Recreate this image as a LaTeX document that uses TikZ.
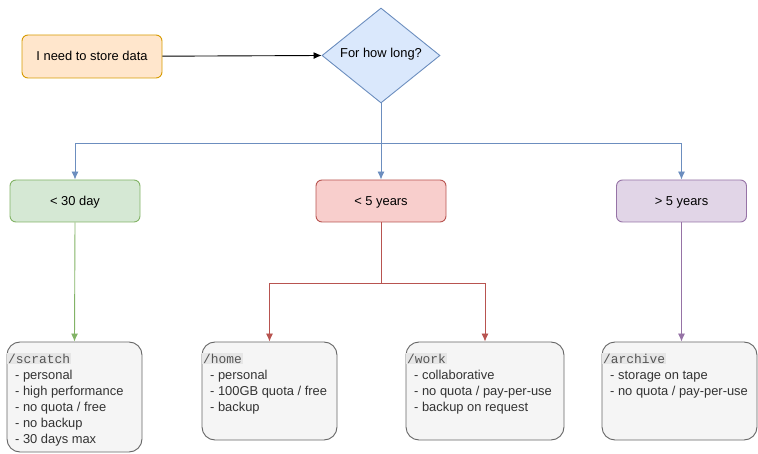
\documentclass[tikz,border=0pt]{standalone}
\usepackage{fontspec}
\setmainfont{Liberation Sans}
\setmonofont{Liberation Mono}
\usetikzlibrary{shapes.geometric,arrows.meta}
\definecolor{oF}{HTML}{FFE6CC}\definecolor{oS}{HTML}{D79B00}
\definecolor{bF}{HTML}{DAE8FC}\definecolor{bS}{HTML}{6C8EBF}
\definecolor{gF}{HTML}{D5E8D4}\definecolor{gS}{HTML}{82B366}
\definecolor{rF}{HTML}{F8CECC}\definecolor{rS}{HTML}{B85450}
\definecolor{pF}{HTML}{E1D5E7}\definecolor{pS}{HTML}{9673A6}
\definecolor{kF}{HTML}{F5F5F5}\definecolor{kS}{HTML}{666666}
\definecolor{kT}{HTML}{333333}\definecolor{hl}{HTML}{E6E6E6}
\definecolor{mT}{HTML}{555555}
\newcommand{\pathname}[1]{{\setlength{\fboxsep}{1pt}\colorbox{hl}{\textcolor{mT}{\ttfamily #1}}}}
\newcommand{\itm}{\hspace*{8pt}- }
\tikzset{
  x=1pt,y=1pt,
  box/.style={draw, rounded corners=6pt, line width=0.9pt, minimum width=130pt, minimum height=42pt, inner sep=0pt, text height=9pt, text depth=0pt, font=\fontsize{12.9}{15}\selectfont},
  bigbox/.style={draw=kS, fill=kF, rounded corners=13pt, line width=0.9pt, inner sep=0pt},
  info/.style={anchor=north west, align=left, inner sep=0pt, text=kT, font=\fontsize{12.9}{16}\selectfont},
  conn/.style={line width=0.9pt, -{Latex[length=8pt,width=7pt]}},
}
\begin{document}
\begin{tikzpicture}
\useasboundingbox (0,0) rectangle (758,-454);
\node[box, fill=oF, draw=oS, minimum width=140pt, minimum height=43pt] (start) at (92,-56.5) {I need to store data};
\node[diamond, draw=bS, fill=bF, line width=0.9pt, minimum width=118pt, minimum height=95pt, inner sep=0pt, aspect=1.24] (q) at (381,-55.5) {};
\node[font=\fontsize{12.9}{15}\selectfont, inner sep=0pt, text height=9pt, text depth=0pt] (qt) at (381,-53) {For how long?};
\node[box, fill=gF, draw=gS] (g) at (75,-201) {< 30 day};
\node[box, fill=rF, draw=rS] (r) at (381,-201) {< 5 years};
\node[box, fill=pF, draw=pS] (p) at (681.5,-201) {> 5 years};

\node[bigbox, minimum width=135pt, minimum height=110pt] (scratch) at (74.5,-397) {};
\node[bigbox, minimum width=135pt, minimum height=98pt] (home) at (269.5,-391) {};
\node[bigbox, minimum width=158pt, minimum height=98pt] (work) at (485,-391) {};
\node[bigbox, minimum width=155pt, minimum height=98pt] (archive) at (679.5,-391) {};

\node[info] (scratcht) at (7,-352.5) {\pathname{/scratch}\\\itm personal\\\itm high performance\\\itm no quota / free\\\itm no backup\\\itm 30 days max};
\node[info] (homet) at (202,-352.5) {\pathname{/home}\\\itm personal\\\itm 100GB quota / free\\\itm backup};
\node[info] (workt) at (406,-352.5) {\pathname{/work}\\\itm collaborative\\\itm no quota / pay-per-use\\\itm backup on request};
\node[info] (archivet) at (602,-352.5) {\pathname{/archive}\\\itm storage on tape\\\itm no quota / pay-per-use};

\draw[conn, black] (start) -- (q.west);
\coordinate (j) at (381,-143);
\draw[conn, bS] (q.south) -- (j) -| (g.north);
\draw[conn, bS] (j) -- (r.north);
\draw[conn, bS] (j) -| (p.north);
\draw[conn, gS] (g.south) -- (scratch.north);
\coordinate (rj) at (381,-283);
\draw[conn, rS] (r.south) -- (rj) -| (home.north);
\draw[conn, rS] (rj) -| (work.north);
\draw[conn, pS] (p.south) -- (p.south |- archive.north);
\end{tikzpicture}
\end{document}
